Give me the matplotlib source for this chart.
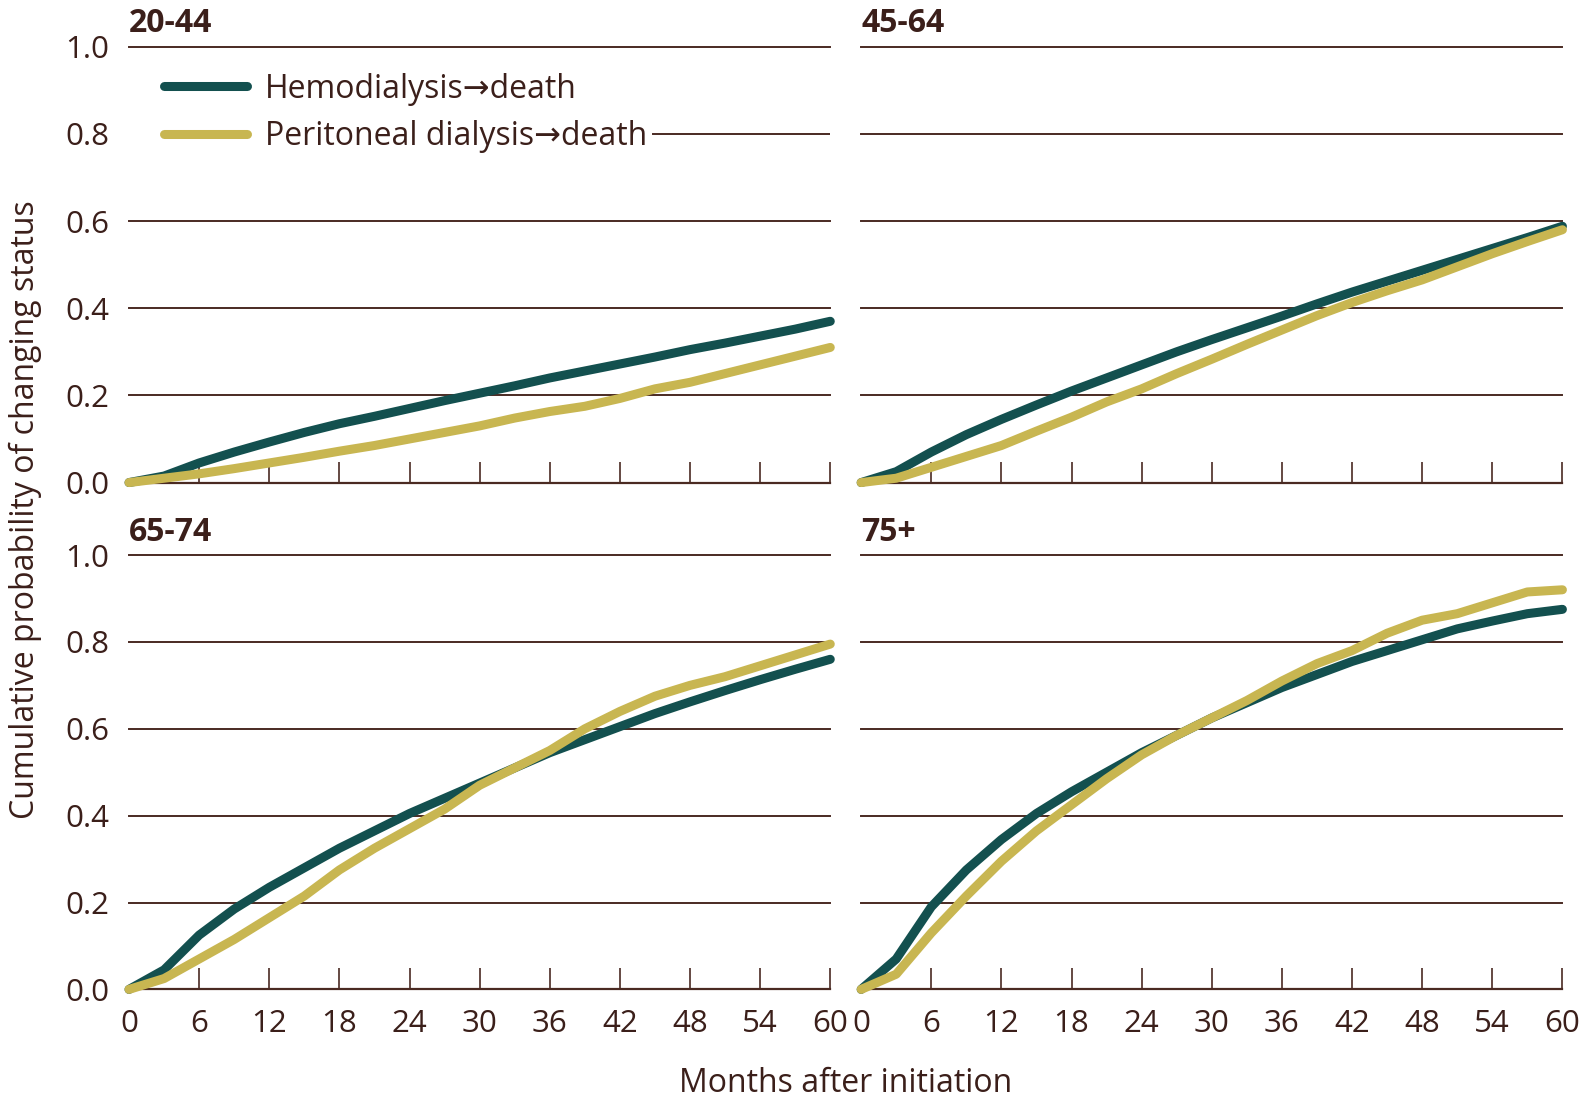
import matplotlib.pyplot as plt
from matplotlib import font_manager

# months after initiation (x values)
months = [0, 3, 6, 9, 12, 15, 18, 21, 24, 27, 30, 33, 36, 39, 42, 45, 48, 51, 54, 57, 60]

# age group 20-44
hd_20_44 = [0, 0.015, 0.045, 0.07, 0.093, 0.115, 0.135, 0.152, 0.17, 0.188, 0.205,
            0.222, 0.24, 0.256, 0.272, 0.288, 0.305, 0.32, 0.336, 0.352, 0.37]
pd_20_44 = [0, 0.01, 0.02, 0.032, 0.045, 0.058, 0.072, 0.085, 0.1, 0.115, 0.13,
            0.148, 0.163, 0.175, 0.193, 0.215, 0.23, 0.25, 0.27, 0.29, 0.31]

# age group 45-64
hd_45_64 = [0, 0.025, 0.07, 0.11, 0.145, 0.178, 0.21, 0.24, 0.27, 0.3, 0.328,
            0.355, 0.382, 0.41, 0.437, 0.462, 0.487, 0.512, 0.537, 0.562, 0.588]
pd_45_64 = [0, 0.01, 0.035, 0.06, 0.085, 0.118, 0.15, 0.185, 0.215, 0.25, 0.283,
            0.317, 0.35, 0.383, 0.413, 0.44, 0.465, 0.495, 0.525, 0.553, 0.58]

# age group 65-74
hd_65_74 = [0, 0.045, 0.125, 0.185, 0.235, 0.28, 0.325, 0.365, 0.405, 0.44, 0.475,
            0.51, 0.545, 0.575, 0.605, 0.635, 0.662, 0.688, 0.713, 0.737, 0.76]
pd_65_74 = [0, 0.025, 0.07, 0.115, 0.165, 0.215, 0.275, 0.325, 0.37, 0.415, 0.47,
            0.51, 0.55, 0.6, 0.64, 0.675, 0.7, 0.72, 0.745, 0.77, 0.795]

# age group 75+
hd_75 = [0, 0.07, 0.19, 0.275, 0.345, 0.405, 0.455, 0.5, 0.545, 0.585, 0.625,
         0.66, 0.695, 0.725, 0.755, 0.78, 0.805, 0.83, 0.848, 0.865, 0.875]
pd_75 = [0, 0.035, 0.13, 0.215, 0.295, 0.365, 0.425, 0.485, 0.54, 0.585, 0.625,
         0.665, 0.71, 0.75, 0.78, 0.82, 0.85, 0.865, 0.89, 0.915, 0.92]

panel_titles = ["20-44", "45-64", "65-74", "75+"]
hd_series = [hd_20_44, hd_45_64, hd_65_74, hd_75]
pd_series = [pd_20_44, pd_45_64, pd_65_74, pd_75]
x_ticks = [0, 6, 12, 18, 24, 30, 36, 42, 48, 54, 60]
y_ticks = [0.0, 0.2, 0.4, 0.6, 0.8, 1.0]

HD_COL = "#13504f"
PD_COL = "#c8b651"
TXT = "#3b1f1a"
LINE = "#4a2a22"

names = {f.name for f in font_manager.fontManager.ttflist}
main_font = "Liberation Sans Narrow" if "Liberation Sans Narrow" in names else "Open Sans"
plt.rcParams['font.family'] = [main_font, 'DejaVu Sans']

fig = plt.figure(figsize=(15.83, 10.98), dpi=100)

# axes positions [left, bottom, width, height] in figure fractions
positions = [
    [0.0815, 0.5605, 0.443, 0.397],
    [0.544, 0.5605, 0.443, 0.397],
    [0.0815, 0.0989, 0.443, 0.3956],
    [0.544, 0.0989, 0.443, 0.3956],
]

axes = []
leg = None
for i in range(4):
    ax = fig.add_axes(positions[i])
    axes.append(ax)
    ax.set_xlim(0, 60)
    ax.set_ylim(0, 1)
    for s in ["top", "right", "left"]:
        ax.spines[s].set_visible(False)
    ax.spines["bottom"].set_color(LINE)
    ax.spines["bottom"].set_linewidth(1.6)
    # horizontal gridlines (0.8 in first panel is drawn after the legend)
    for yv in y_ticks[1:]:
        if i == 0 and yv == 0.8:
            continue
        ax.axhline(yv, color=LINE, lw=1.4, zorder=1, clip_on=False)
    l1, = ax.plot(months, hd_series[i], color=HD_COL, lw=6.5, solid_capstyle="round",
                  zorder=3, clip_on=False, label="Hemodialysis\u2192death")
    l2, = ax.plot(months, pd_series[i], color=PD_COL, lw=6.5, solid_capstyle="round",
                  zorder=4, clip_on=False, label="Peritoneal dialysis\u2192death")
    ax.set_xticks(x_ticks)
    if i >= 2:
        ax.set_xticklabels([str(t) for t in x_ticks])
    else:
        ax.set_xticklabels([])
    ax.tick_params(axis="x", direction="in", length=15, width=1.2, color=LINE,
                   labelsize=22.5, labelcolor=TXT, pad=14)
    ax.xaxis.get_major_ticks()[0].tick1line.set_visible(False)
    ax.set_yticks(y_ticks)
    if i % 2 == 0:
        ax.set_yticklabels(["%.1f" % v for v in y_ticks])
    else:
        ax.set_yticklabels([])
    ax.tick_params(axis="y", length=0, labelsize=22.5, labelcolor=TXT, pad=14)
    ax.text(0.0, 1.015, panel_titles[i], transform=ax.transAxes, fontsize=23,
            fontweight="bold", color=TXT, ha="left", va="bottom")
    if i == 0:
        leg = ax.legend(handles=[l1, l2], loc="upper left", bbox_to_anchor=(0.041, 0.955),
                        frameon=False, fontsize=23, handlelength=2.6, handletextpad=0.55,
                        borderaxespad=0, borderpad=0.2, labelspacing=0.45)
        for t in leg.get_texts():
            t.set_color(TXT)

fig.text(0.016, 1 - 510 / 1098, "Cumulative probability of changing status", rotation=90,
         ha="center", va="center", fontsize=23, color=TXT)
fig.text(846 / 1583, 1 - 1083 / 1098, "Months after initiation", ha="center", va="center",
         fontsize=23, color=TXT)

# 0.8 gridline of first panel starts right after the legend text
fig.canvas.draw()
bb = leg.get_window_extent()
x_start = axes[0].transData.inverted().transform((bb.x1, 0))[0]
axes[0].plot([x_start, 60], [0.8, 0.8], color=LINE, lw=1.4, zorder=1)

fig.savefig("out.png", dpi=100, facecolor="white")
